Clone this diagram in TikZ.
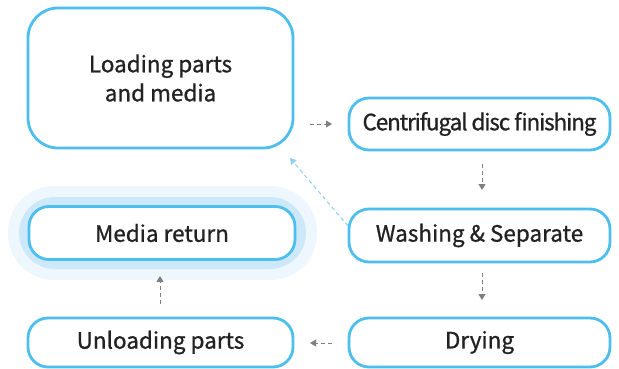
\documentclass[tikz,border=0pt]{standalone}
\usepackage{fontspec}
\setmainfont{Noto Sans CJK KR}[FakeBold=0.9]
\newfontfamily\tightfont{Noto Sans CJK KR}[FakeBold=0.9, LetterSpace=-5]
\usetikzlibrary{arrows.meta}
\definecolor{bord}{HTML}{4DBFEE}
\definecolor{glowA}{HTML}{EEF7FD}
\definecolor{glowB}{HTML}{CDE8F8}
\definecolor{txt}{HTML}{222222}
\definecolor{arr}{HTML}{808080}
\definecolor{larr}{HTML}{8FD0F2}
\tikzset{
  stepbox/.style={draw=bord, line width=2.8pt, fill=white, rounded corners=20pt, align=center, text=txt, font=\fontsize{22.5}{29}\selectfont, inner sep=0pt},
  flow/.style={draw=arr, line width=1pt, dash pattern=on 4pt off 3pt, -{Triangle[length=6pt,width=7pt]}},
  back/.style={draw=larr, line width=1pt, dash pattern=on 4pt off 3pt, -{Triangle[length=6pt,width=7pt]}},
}
\begin{document}
\begin{tikzpicture}[x=1pt,y=-1pt]
\useasboundingbox (0,0) rectangle (619,369);
% glow
\fill[glowA, rounded corners=46pt] (8,186) rectangle (317,280);
\fill[glowB, rounded corners=36pt] (19,197) rectangle (306,269);
\node[stepbox, rounded corners=30pt, minimum width=265pt, minimum height=140pt] (load) at (160.5,78) {Loading parts\\and media};
\node[stepbox, minimum width=261pt, minimum height=52pt] (cent) at (479.5,124) {\tightfont Centrifugal disc finishing};
\node[stepbox, minimum width=261pt, minimum height=53pt] (wash) at (479.5,235.5) {Washing \& Separate};
\node[stepbox, minimum width=261pt, minimum height=49pt] (dry) at (479.5,342.5) {Drying};
\node[stepbox, minimum width=265pt, minimum height=49pt] (unl) at (160.5,342.5) {Unloading parts};
\node[stepbox, minimum width=266pt, minimum height=53pt] (med) at (162,233) {Media return};
\coordinate (a1s) at (310,124); \coordinate (a1e) at (332,124);
\draw[flow] (a1s) -- (a1e);
\coordinate (a2s) at (482,164); \coordinate (a2e) at (482,190);
\draw[flow] (a2s) -- (a2e);
\coordinate (a3s) at (482,273); \coordinate (a3e) at (482,300);
\draw[flow] (a3s) -- (a3e);
\coordinate (a4s) at (332,343); \coordinate (a4e) at (310,343);
\draw[flow] (a4s) -- (a4e);
\coordinate (a5s) at (160,304); \coordinate (a5e) at (160,276);
\draw[flow] (a5s) -- (a5e);
\coordinate (a6s) at (348,226); \coordinate (a6e) at (290,158);
\draw[back] (a6s) -- (a6e);
\end{tikzpicture}
\end{document}
